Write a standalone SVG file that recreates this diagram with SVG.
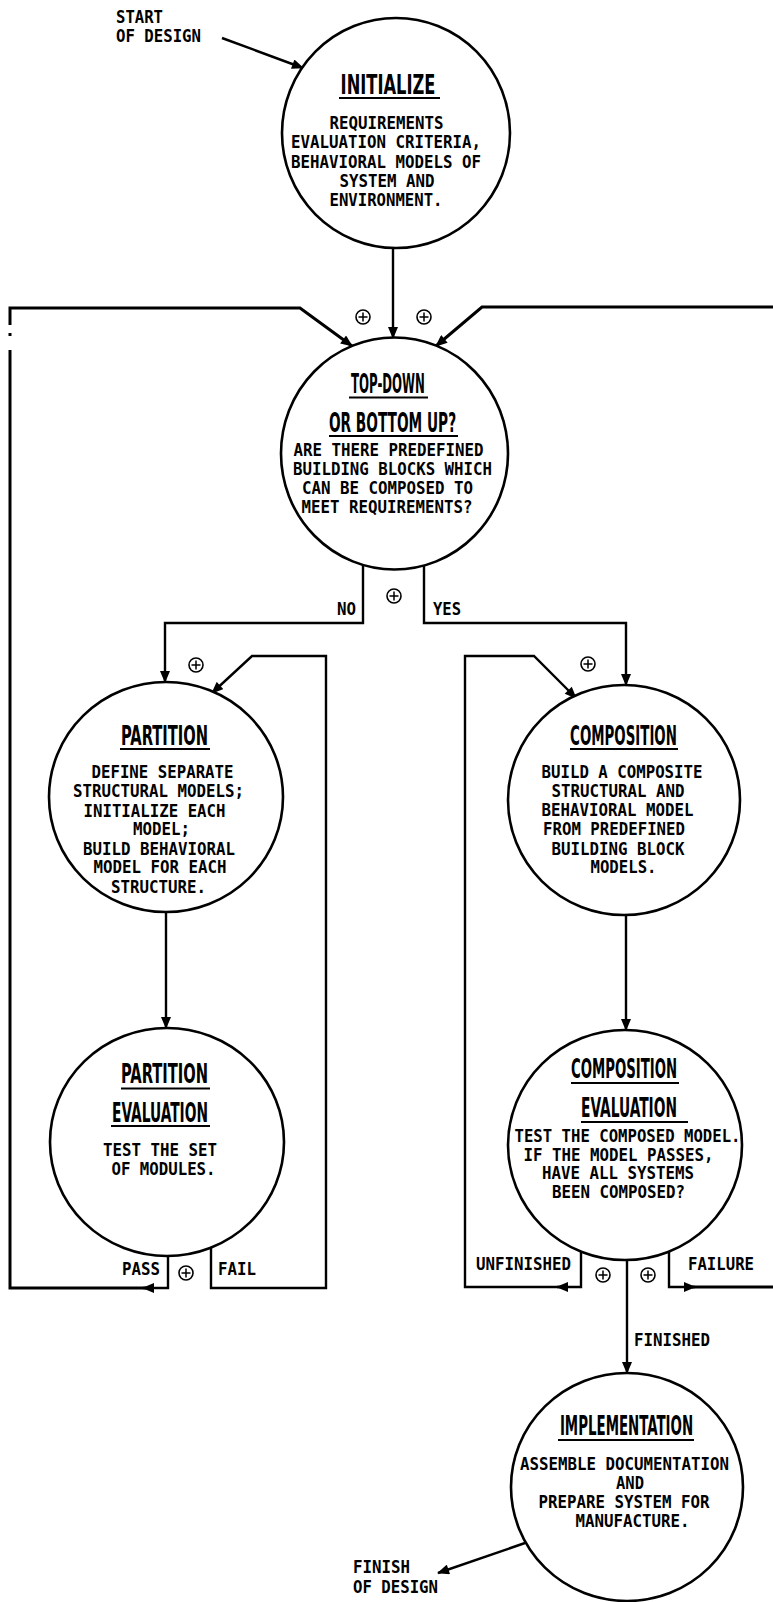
<svg xmlns="http://www.w3.org/2000/svg" xmlns:xlink="http://www.w3.org/1999/xlink" width="773" height="1602" viewBox="0 0 773 1602">
  <style>
    .bg { fill: #ffffff; }
    .node { fill: #ffffff; stroke: #000; stroke-width: 2.6; }
    .c { fill: none; stroke: #000; stroke-width: 2.4; stroke-linejoin: miter; }
    .o { fill: none; stroke: #000; stroke-width: 3; stroke-linejoin: miter; }
    .ul { stroke: #000; stroke-width: 2; }
    .t { font-family: "DejaVu Sans Condensed", "DejaVu Sans", sans-serif; font-weight: bold; font-size: 26px; text-anchor: middle; fill: #000; }
    .b { font-family: "DejaVu Sans Mono", "Liberation Mono", monospace; font-weight: bold; font-size: 17.5px; text-anchor: middle; fill: #000; }
    .l { font-family: "DejaVu Sans Mono", "Liberation Mono", monospace; font-weight: bold; font-size: 17.5px; fill: #000; }
    .e { text-anchor: end; }
    .junc circle { fill: #fff; stroke: #000; stroke-width: 1.6; }
    .junc path { stroke: #000; stroke-width: 1.5; }
  </style>
  <defs>
    <marker id="arrow" viewBox="0 0 12 10" refX="11" refY="5" markerWidth="13" markerHeight="10" markerUnits="userSpaceOnUse" orient="auto">
      <path d="M0,0 L12,5 L0,10 Z" fill="#000"/>
    </marker>
    <g id="plus" class="junc">
      <circle cx="0" cy="0" r="7"/>
      <path d="M-4.5,0 H4.5 M0,-4.5 V4.5"/>
    </g>
  </defs>

  <rect class="bg" x="0" y="0" width="773" height="1602"/>

  <!-- connectors -->
  <g id="connectors">
    <!-- entry and exit of the whole process -->
    <path class="c" d="M222,38 L303,68" marker-end="url(#arrow)"/>
    <path class="c" d="M525,1543 L438,1573" marker-end="url(#arrow)"/>

    <!-- initialize to decision -->
    <path class="c" d="M393,248 V338" marker-end="url(#arrow)"/>

    <!-- decision outputs -->
    <path class="c" d="M363,565 V623 H165 V682" marker-end="url(#arrow)"/>
    <path class="c" d="M424,565 V623 H626 V685" marker-end="url(#arrow)"/>

    <!-- partition branch -->
    <path class="c" d="M166,912 V1028" marker-end="url(#arrow)"/>
    <path class="c" d="M211,1248 V1288 H326 V656 H252 L212,693" marker-end="url(#arrow)"/>
    <path class="c" d="M168,1256 V1288 H143" marker-end="url(#arrow)"/>
    <path class="o" d="M146,1288 H10 V350"/>
    <path class="o" d="M10,325 V308 H300 L352,346" marker-end="url(#arrow)"/>
    <rect x="8.5" y="333" width="3" height="3" fill="#000"/>

    <!-- composition branch -->
    <path class="c" d="M626,915 V1030" marker-end="url(#arrow)"/>
    <path class="c" d="M581,1252 V1287 H557" marker-end="url(#arrow)"/>
    <path class="c" d="M560,1287 H465 V656 H534 L576,698" marker-end="url(#arrow)"/>
    <path class="c" d="M669,1252 V1287 H695" marker-end="url(#arrow)"/>
    <path class="o" d="M692,1287 H776 V307 H482 L436,346" marker-end="url(#arrow)"/>
    <path class="c" d="M627,1260 V1373" marker-end="url(#arrow)"/>

    <!-- junction marks -->
    <use xlink:href="#plus" href="#plus" x="363" y="317"/>
    <use xlink:href="#plus" href="#plus" x="424" y="317"/>
    <use xlink:href="#plus" href="#plus" x="394" y="596"/>
    <use xlink:href="#plus" href="#plus" x="196" y="665"/>
    <use xlink:href="#plus" href="#plus" x="588" y="664"/>
    <use xlink:href="#plus" href="#plus" x="186" y="1273"/>
    <use xlink:href="#plus" href="#plus" x="603" y="1275"/>
    <use xlink:href="#plus" href="#plus" x="648" y="1275"/>

    <!-- branch labels -->
    <text class="l" x="116" y="23" textLength="47" lengthAdjust="spacingAndGlyphs">START</text>
    <text class="l" x="116" y="42" textLength="85" lengthAdjust="spacingAndGlyphs">OF DESIGN</text>
    <text class="l e" x="356" y="615" textLength="19" lengthAdjust="spacingAndGlyphs">NO</text>
    <text class="l" x="433" y="615" textLength="28" lengthAdjust="spacingAndGlyphs">YES</text>
    <text class="l e" x="160" y="1275" textLength="38" lengthAdjust="spacingAndGlyphs">PASS</text>
    <text class="l" x="218" y="1275" textLength="38" lengthAdjust="spacingAndGlyphs">FAIL</text>
    <text class="l" x="476" y="1270" textLength="95" lengthAdjust="spacingAndGlyphs">UNFINISHED</text>
    <text class="l" x="688" y="1270" textLength="66" lengthAdjust="spacingAndGlyphs">FAILURE</text>
    <text class="l" x="634" y="1346" textLength="76" lengthAdjust="spacingAndGlyphs">FINISHED</text>
    <text class="l" x="353" y="1573" textLength="57" lengthAdjust="spacingAndGlyphs">FINISH</text>
    <text class="l" x="353" y="1593" textLength="85" lengthAdjust="spacingAndGlyphs">OF DESIGN</text>
  </g>

  <!-- nodes: titles are squeezed horizontally to 60% -->
  <g id="initialize">
    <ellipse class="node" cx="396" cy="133" rx="114" ry="115"/>
    <text class="t" transform="translate(388,94) scale(0.6,1)" textLength="158" lengthAdjust="spacingAndGlyphs">INITIALIZE</text>
    <line class="ul" x1="339" y1="98" x2="440" y2="98"/>
    <text class="b" x="386.5" y="129" textLength="114" lengthAdjust="spacingAndGlyphs">REQUIREMENTS</text>
    <text class="b" x="386" y="148" textLength="190" lengthAdjust="spacingAndGlyphs">EVALUATION CRITERIA,</text>
    <text class="b" x="386" y="168" textLength="190" lengthAdjust="spacingAndGlyphs">BEHAVIORAL MODELS OF</text>
    <text class="b" x="387" y="187" textLength="95" lengthAdjust="spacingAndGlyphs">SYSTEM AND</text>
    <text class="b" x="386" y="206" textLength="113" lengthAdjust="spacingAndGlyphs">ENVIRONMENT.</text>
  </g>

  <g id="top-down-or-bottom-up">
    <ellipse class="node" cx="394.5" cy="453.5" rx="113.5" ry="116"/>
    <text class="t" transform="translate(388,393) scale(0.6,1)" textLength="123" lengthAdjust="spacingAndGlyphs">TOP-DOWN</text>
    <line class="ul" x1="349" y1="397.5" x2="428" y2="397.5"/>
    <text class="t" transform="translate(392.5,432) scale(0.6,1)" textLength="212" lengthAdjust="spacingAndGlyphs">OR BOTTOM UP?</text>
    <line class="ul" x1="329" y1="436" x2="458" y2="436"/>
    <text class="b" x="388.5" y="456" textLength="190" lengthAdjust="spacingAndGlyphs">ARE THERE PREDEFINED</text>
    <text class="b" x="392.5" y="475" textLength="199" lengthAdjust="spacingAndGlyphs">BUILDING BLOCKS WHICH</text>
    <text class="b" x="387.5" y="494" textLength="171" lengthAdjust="spacingAndGlyphs">CAN BE COMPOSED TO</text>
    <text class="b" x="387" y="513" textLength="171" lengthAdjust="spacingAndGlyphs">MEET REQUIREMENTS?</text>
  </g>

  <g id="partition">
    <ellipse class="node" cx="166" cy="797" rx="117" ry="115"/>
    <text class="t" transform="translate(164.5,745) scale(0.6,1)" textLength="145" lengthAdjust="spacingAndGlyphs">PARTITION</text>
    <line class="ul" x1="120" y1="749" x2="210" y2="749"/>
    <text class="b" x="162.5" y="778" textLength="142" lengthAdjust="spacingAndGlyphs">DEFINE SEPARATE</text>
    <text class="b" x="158.5" y="797" textLength="171" lengthAdjust="spacingAndGlyphs">STRUCTURAL MODELS;</text>
    <text class="b" x="154.5" y="817" textLength="142" lengthAdjust="spacingAndGlyphs">INITIALIZE EACH</text>
    <text class="b" x="161.5" y="835" textLength="57" lengthAdjust="spacingAndGlyphs">MODEL;</text>
    <text class="b" x="159" y="855" textLength="152" lengthAdjust="spacingAndGlyphs">BUILD BEHAVIORAL</text>
    <text class="b" x="160" y="873" textLength="133" lengthAdjust="spacingAndGlyphs">MODEL FOR EACH</text>
    <text class="b" x="158.5" y="893" textLength="95" lengthAdjust="spacingAndGlyphs">STRUCTURE.</text>
  </g>

  <g id="composition">
    <ellipse class="node" cx="624" cy="800" rx="116" ry="115"/>
    <text class="t" transform="translate(623.5,745) scale(0.6,1)" textLength="178" lengthAdjust="spacingAndGlyphs">COMPOSITION</text>
    <line class="ul" x1="570" y1="749" x2="678" y2="749"/>
    <text class="b" x="622" y="778" textLength="161" lengthAdjust="spacingAndGlyphs">BUILD A COMPOSITE</text>
    <text class="b" x="618" y="797" textLength="133" lengthAdjust="spacingAndGlyphs">STRUCTURAL AND</text>
    <text class="b" x="617.5" y="816" textLength="152" lengthAdjust="spacingAndGlyphs">BEHAVIORAL MODEL</text>
    <text class="b" x="614" y="835" textLength="142" lengthAdjust="spacingAndGlyphs">FROM PREDEFINED</text>
    <text class="b" x="618" y="855" textLength="133" lengthAdjust="spacingAndGlyphs">BUILDING BLOCK</text>
    <text class="b" x="623.5" y="873" textLength="66" lengthAdjust="spacingAndGlyphs">MODELS.</text>
  </g>

  <g id="partition-evaluation">
    <ellipse class="node" cx="167" cy="1142" rx="117" ry="114"/>
    <text class="t" transform="translate(164.5,1083) scale(0.6,1)" textLength="145" lengthAdjust="spacingAndGlyphs">PARTITION</text>
    <line class="ul" x1="121" y1="1088.5" x2="210" y2="1088.5"/>
    <text class="t" transform="translate(160,1122) scale(0.6,1)" textLength="160" lengthAdjust="spacingAndGlyphs">EVALUATION</text>
    <line class="ul" x1="111" y1="1126" x2="210" y2="1126"/>
    <text class="b" x="160" y="1156" textLength="114" lengthAdjust="spacingAndGlyphs">TEST THE SET</text>
    <text class="b" x="163.5" y="1175" textLength="104" lengthAdjust="spacingAndGlyphs">OF MODULES.</text>
  </g>

  <g id="composition-evaluation">
    <ellipse class="node" cx="625" cy="1145" rx="117" ry="115"/>
    <text class="t" transform="translate(624,1078) scale(0.6,1)" textLength="177" lengthAdjust="spacingAndGlyphs">COMPOSITION</text>
    <line class="ul" x1="571" y1="1083" x2="679" y2="1083"/>
    <text class="t" transform="translate(629,1117) scale(0.6,1)" textLength="160" lengthAdjust="spacingAndGlyphs">EVALUATION</text>
    <line class="ul" x1="581" y1="1122" x2="688" y2="1122"/>
    <text class="b" x="627.5" y="1142" textLength="226" lengthAdjust="spacingAndGlyphs">TEST THE COMPOSED MODEL.</text>
    <text class="b" x="618.5" y="1161" textLength="190" lengthAdjust="spacingAndGlyphs">IF THE MODEL PASSES,</text>
    <text class="b" x="618" y="1179" textLength="152" lengthAdjust="spacingAndGlyphs">HAVE ALL SYSTEMS</text>
    <text class="b" x="618.5" y="1198" textLength="133" lengthAdjust="spacingAndGlyphs">BEEN COMPOSED?</text>
  </g>

  <g id="implementation">
    <ellipse class="node" cx="627" cy="1487" rx="116" ry="114"/>
    <text class="t" transform="translate(626.5,1435) scale(0.6,1)" textLength="222" lengthAdjust="spacingAndGlyphs">IMPLEMENTATION</text>
    <line class="ul" x1="558" y1="1440" x2="694" y2="1440"/>
    <text class="b" x="624.5" y="1470" textLength="209" lengthAdjust="spacingAndGlyphs">ASSEMBLE DOCUMENTATION</text>
    <text class="b" x="630" y="1489" textLength="28" lengthAdjust="spacingAndGlyphs">AND</text>
    <text class="b" x="624" y="1508" textLength="171" lengthAdjust="spacingAndGlyphs">PREPARE SYSTEM FOR</text>
    <text class="b" x="632.5" y="1527" textLength="114" lengthAdjust="spacingAndGlyphs">MANUFACTURE.</text>
  </g>
</svg>
